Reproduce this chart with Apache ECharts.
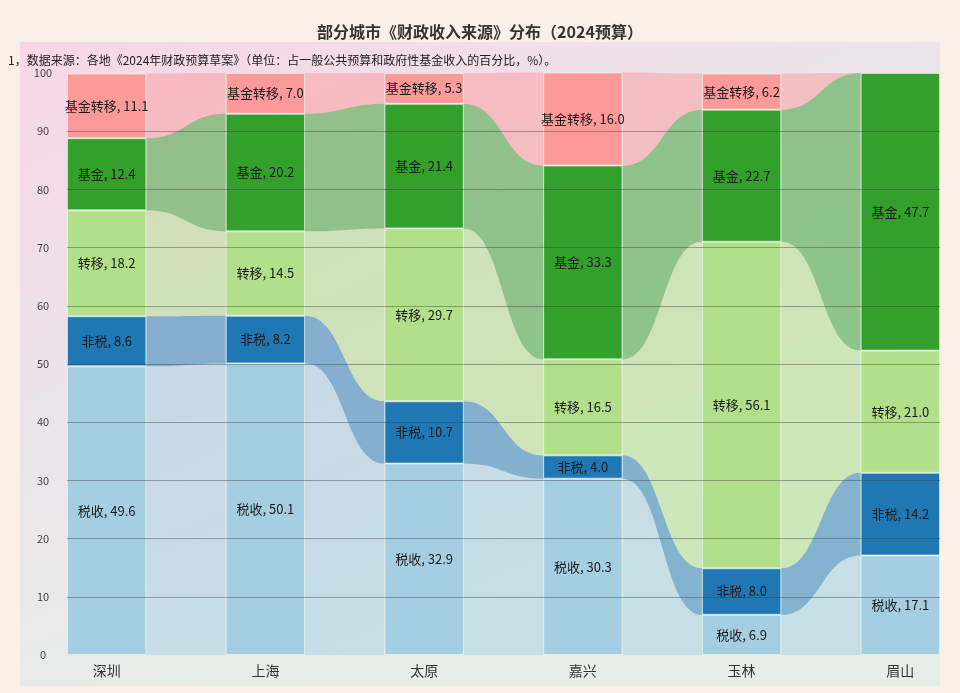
<!DOCTYPE html>
<html>
<head>
<meta charset="utf-8">
<script src="https://cdn.jsdelivr.net/npm/echarts@6/dist/echarts.min.js"></script>
<style>
html,body{margin:0;padding:0;background:#fbf0e7;}
#main{width:960px;height:693px;}
</style>
</head>
<body>
<div id="main"></div>
<script>
// ---- data ----
const cities = ['深圳', '上海', '太原', '嘉兴', '玉林', '眉山'];
const seriesNames = ['税收', '非税', '转移', '基金', '基金转移'];
const taxData      = [49.6, 50.1, 32.9, 30.3, 6.9, 17.1];
const nonTaxData   = [8.6, 8.2, 10.7, 4.0, 8.0, 14.2];
const transferData = [18.2, 14.5, 29.7, 16.5, 56.1, 21.0];
const fundData     = [12.4, 20.2, 21.4, 33.3, 22.7, 47.7];
const fundTransferData = [11.1, 7.0, 5.3, 16.0, 6.2, 0];
const yTicks = [0, 10, 20, 30, 40, 50, 60, 70, 80, 90, 100];

const colors = ['#a6cee3', '#1f78b4', '#b2df8a', '#33a02c', '#fb9a99'];
const allData = [taxData, nonTaxData, transferData, fundData, fundTransferData];

// axis categories: cities interleaved with empty gap slots
const axisCats = [];
cities.forEach((c, i) => { axisCats.push(c); if (i < cities.length - 1) axisCats.push(''); });

// cumulative bottoms/tops
const bottoms = allData.map(() => []);
const tops = allData.map(() => []);
cities.forEach((c, ci) => {
  let acc = 0;
  allData.forEach((arr, si) => {
    bottoms[si][ci] = acc;
    acc += arr[ci];
    tops[si][ci] = acc;
  });
});

const series = [];
// ribbons
allData.forEach((arr, si) => {
  const data = [];
  for (let ci = 0; ci < cities.length - 1; ci++) {
    data.push([2 * ci + 1, bottoms[si][ci], tops[si][ci], bottoms[si][ci + 1], tops[si][ci + 1]]);
  }
  series.push({
    type: 'custom',
    name: seriesNames[si] + '-flow',
    silent: true,
    z: 1,
    data: data,
    encode: { x: 0, y: [1, 2, 3, 4] },
    renderItem: function (params, api) {
      const g = api.value(0);
      const bw = api.size([1, 0])[0];
      const c = api.coord([g, 0]);
      const xm = c[0];
      const xl = xm - bw / 2;
      const xr = xm + bw / 2;
      const yLowL = api.coord([g, api.value(1)])[1];
      const yHighL = api.coord([g, api.value(2)])[1];
      const yLowR = api.coord([g, api.value(3)])[1];
      const yHighR = api.coord([g, api.value(4)])[1];
      const d = 'M' + xl + ' ' + yHighL +
        ' C' + xm + ' ' + yHighL + ' ' + xm + ' ' + yHighR + ' ' + xr + ' ' + yHighR +
        ' L' + xr + ' ' + yLowR +
        ' C' + xm + ' ' + yLowR + ' ' + xm + ' ' + yLowL + ' ' + xl + ' ' + yLowL + ' Z';
      return {
        type: 'path',
        shape: { pathData: d },
        style: { fill: colors[si], opacity: 0.5 }
      };
    }
  });
});
// bars
allData.forEach((arr, si) => {
  const data = [];
  arr.forEach((v, ci) => {
    data.push(v === 0 ? '-' : v);
    if (ci < arr.length - 1) data.push('-');
  });
  series.push({
    type: 'bar',
    name: seriesNames[si],
    stack: 'total',
    barWidth: '100%',
    z: 2,
    data: data,
    itemStyle: { color: colors[si], borderColor: 'rgba(236,250,236,0.6)', borderWidth: 1 },
    label: {
      show: true,
      position: 'inside',
      color: '#1a1a1a',
      fontSize: 13,
      fontFamily: 'Noto Sans CJK SC',
      formatter: p => p.seriesName + ', ' + Number(p.value).toFixed(1)
    }
  });
});

const chart = echarts.init(document.getElementById('main'), null, { renderer: 'canvas' });
chart.setOption({
  backgroundColor: '#fbf0e7',
  animation: false,
  textStyle: { fontFamily: 'Noto Sans CJK SC' },
  title: [
    {
      text: '部分城市《财政收入来源》分布（2024预算）',
      left: 'center', top: 19,
      textStyle: { fontSize: 16, fontWeight: 'bold', color: '#333', fontFamily: 'Noto Sans CJK SC' }
    },
    {
      text: '1，数据来源：各地《2024年财政预算草案》（单位：占一般公共预算和政府性基金收入的百分比，%）。',
      left: 3, top: 49,
      textStyle: { fontSize: 12, fontWeight: 'normal', color: '#222', fontFamily: 'Noto Sans CJK SC' }
    }
  ],
  graphic: [{
    type: 'rect',
    z: -10,
    silent: true,
    shape: { x: 20, y: 42, width: 920, height: 644 },
    style: {
      fill: new echarts.graphic.LinearGradient(0, 0, 0.3, 1, [
        { offset: 0, color: '#f8d6e5' },
        { offset: 0.45, color: '#ece3ea' },
        { offset: 1, color: '#e6eee8' }
      ])
    }
  }],
  grid: { left: 67, right: 20, top: 73, bottom: 38 },
  xAxis: {
    type: 'category',
    data: axisCats,
    boundaryGap: true,
    axisLine: { show: false },
    axisTick: { show: false },
    axisLabel: { fontSize: 14, color: '#333', margin: 9, interval: 0 },
    splitLine: { show: false }
  },
  yAxis: {
    type: 'value',
    min: 0, max: 100, interval: 10,
    z: 10,
    axisLine: { show: false },
    axisTick: { show: false },
    axisLabel: {
      fontSize: 11, color: '#444', margin: 24, align: 'center',
      customValues: yTicks
    },
    splitLine: {
      show: true, showMinLine: false, showMaxLine: false,
      lineStyle: { color: 'rgba(60,60,60,0.42)', width: 1 }
    }
  },
  series: series
});
</script>
</body>
</html>
